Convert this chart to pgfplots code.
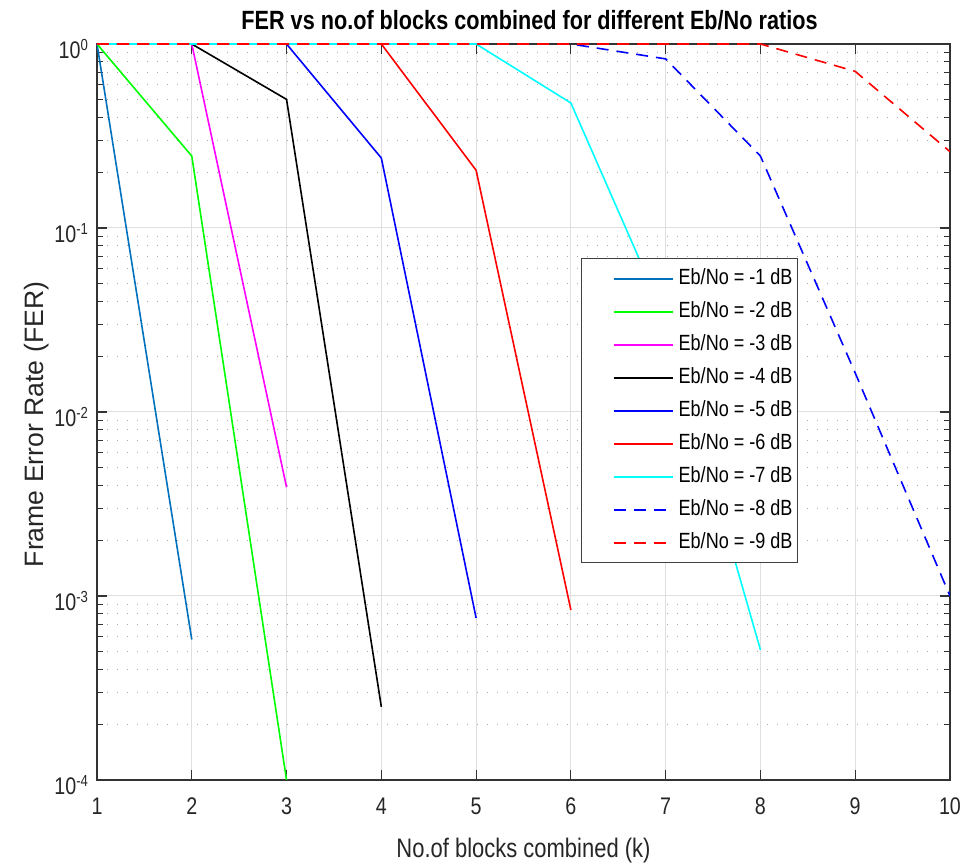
\documentclass[border=0pt]{standalone}
\usepackage{fontspec}
\setmainfont{Liberation Sans}[FakeStretch=0.82]
\newfontfamily\ylfont{Liberation Sans}
\usepackage{pgfplots}
\pgfplotsset{compat=1.18}
\definecolor{mblue}{rgb}{0,0.447,0.741}
\definecolor{pgreen}{rgb}{0,1,0}
\definecolor{pmag}{rgb}{1,0,1}
\definecolor{pblue}{rgb}{0,0,1}
\definecolor{pred}{rgb}{1,0,0}
\definecolor{pcyan}{rgb}{0,1,1}
\begin{document}
\begin{tikzpicture}
\begin{axis}[
  scale only axis, width=426.5pt, height=368pt,
  ymode=log, xmin=1, xmax=10, ymin=1e-4, ymax=1,
  xtick={1,2,3,4,5,6,7,8,9,10},
  ytick={1e-4,1e-3,1e-2,1e-1,1},
  yticklabels={10\textsuperscript{-4},10\textsuperscript{-3},10\textsuperscript{-2},10\textsuperscript{-1},10\textsuperscript{0}},
  minor ytick={2e-4,3e-4,4e-4,5e-4,6e-4,7e-4,8e-4,9e-4,2e-3,3e-3,4e-3,5e-3,6e-3,7e-3,8e-3,9e-3,2e-2,3e-2,4e-2,5e-2,6e-2,7e-2,8e-2,9e-2,2e-1,3e-1,4e-1,5e-1,6e-1,7e-1,8e-1,9e-1},
  /pgf/number format/assume math mode=true,
  tick label style={font=\fontsize{12}{14}\selectfont, text=black!85},
  yticklabel style={xshift=-0.5pt, yshift=-2.5pt},
  xticklabel style={yshift=-5.5pt},
  tick align=inside,
  major tick length=5pt, minor tick length=3pt,
  tick style={black!80, line width=0.6pt},
  axis line style={black!80, line width=0.7pt},
  xmajorgrids, ymajorgrids, yminorgrids,
  major grid style={gray!25, line width=0.5pt},
  minor grid style={gray!70, line width=0.5pt, dash pattern=on 0.5pt off 4.5pt},
  title={FER vs no.of blocks combined for different Eb/No ratios},
  title style={font=\bfseries\fontsize{13.2}{15}\selectfont, at={(axis description cs:0.5,1)}, anchor=base, yshift=1pt, xshift=3pt},
  xlabel={No.of blocks combined (k)},
  xlabel style={font=\fontsize{13.4}{15}\selectfont, text=black!85, at={(axis description cs:0.5,0)}, anchor=base, yshift=-39pt},
  ylabel={Frame Error Rate (FER)},
  ylabel style={font=\ylfont\fontsize{13.3}{15}\selectfont, text=black!85, at={(axis description cs:-0.0633,0.483)}, anchor=base},
  legend cell align=left,
  legend image code/.code={\path[draw=none] (0pt,0pt) -- (46pt,0pt); \draw[#1] (13.5pt,0pt) -- (43pt,0pt);},
  legend style={at={(axis description cs:0.5674,0.7092)}, anchor=north west,
    draw=black!75, line width=0.7pt, fill=white,
    font=\fontsize{11}{13}\selectfont,
    inner xsep=2.5pt, inner ysep=3pt, row sep=2.5pt,
    nodes={inner xsep=0pt, inner ysep=2pt, text height=8pt, text depth=2pt}},
  every axis plot/.append style={line width=0.8pt},
]
\addplot[mblue] coordinates {(1,1) (2,5.8e-4)};
\addlegendentry{Eb/No = -1 dB}
\addplot[pgreen] coordinates {(1,1) (2,0.246) (3,1e-4)};
\addlegendentry{Eb/No = -2 dB}
\addplot[pmag] coordinates {(1,1) (2,1) (3,3.9e-3)};
\addlegendentry{Eb/No = -3 dB}
\addplot[black] coordinates {(1,1) (2,1) (3,0.5) (4,2.5e-4)};
\addlegendentry{Eb/No = -4 dB}
\addplot[pblue] coordinates {(1,1) (2,1) (3,1) (4,0.24) (5,7.6e-4)};
\addlegendentry{Eb/No = -5 dB}
\addplot[pred] coordinates {(1,1) (2,1) (3,1) (4,1) (5,0.206) (6,8.4e-4)};
\addlegendentry{Eb/No = -6 dB}
\addplot[pcyan] coordinates {(1,1) (2,1) (3,1) (4,1) (5,1) (6,0.478) (7,0.032) (8,5.1e-4)};
\addlegendentry{Eb/No = -7 dB}
\addplot[pblue, dash pattern=on 6pt off 4pt] coordinates {(1,1) (2,1) (3,1) (4,1) (5,1) (6,1) (7,0.83) (8,0.246) (9,0.0163) (10,1e-3)};
\addlegendentry{Eb/No = -8 dB}
\addplot[pred, dash pattern=on 6pt off 4pt] coordinates {(1,1) (2,1) (3,1) (4,1) (5,1) (6,1) (7,1) (8,1) (9,0.71) (10,0.26)};
\addlegendentry{Eb/No = -9 dB}
\end{axis}
\pgfresetboundingbox
\path (-48.5pt,-42.5pt) rectangle (434pt,390pt);
\end{tikzpicture}
\end{document}
